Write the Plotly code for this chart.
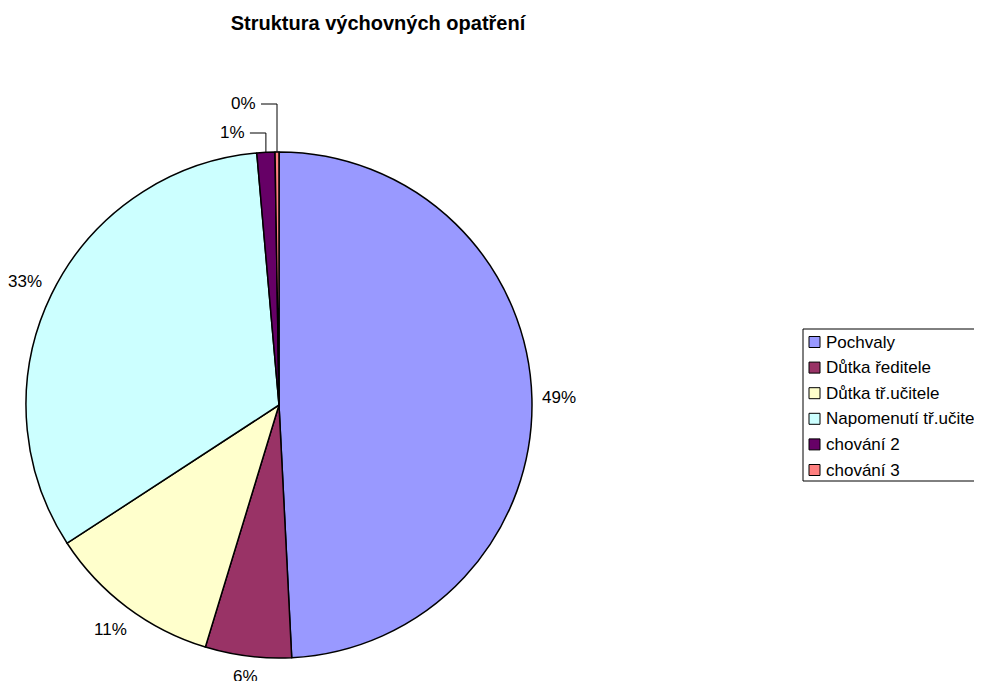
import math
import plotly.graph_objects as go

# ---- data ----
categories = ["Pochvaly", "Důtka ředitele", "Důtka tř.učitele",
              "Napomenutí tř.učitele", "chování 2", "chování 3"]
values = [49.2, 5.5, 11.1, 32.8, 1.15, 0.25]
colors = ["#9999FF", "#993366", "#FFFFCC", "#CCFFFF", "#660066", "#FF8080"]
title_text = "Struktura výchovných opatření"

# ---- layout constants (pixels, figure coordinates) ----
W, H = 982, 681
CX, CY, R = 271, 397, 253          # pie centre / radius
FONT = "Arial, Liberation Sans, sans-serif"
LABEL_SIZE = 17
LABEL_GAP = 10                     # gap between rim and label box
SMALL = {4: 19, 5: 48}             # slices labelled with leader lines: rise above rim
LEG_LEFT, LEG_TOP, LEG_BOTTOM = 795, 321, 473
LEG_FIRST, LEG_STEP = 334, 25.6
SW_X0, SW_SIZE, TXT_X = 801, 11, 816


def px(x):
    return x / W


def py(y):
    return 1 - y / H


total = sum(values)
pct = [f"{round(v / total * 100)}%" for v in values]

fig = go.Figure(go.Pie(
    labels=categories,
    values=values,
    sort=False,
    direction="clockwise",
    rotation=0,
    marker=dict(colors=colors, line=dict(color="black", width=1.5)),
    textinfo="none",
    domain=dict(x=[px(CX - R), px(CX + R)], y=[py(CY + R), py(CY - R)]),
    hoverinfo="label+percent",
    showlegend=False,
))

shapes = []
annotations = []
lab_font = dict(family=FONT, size=LABEL_SIZE, color="black")

# percentage labels placed just outside each slice's mid-angle
cum = 0.0
for i, v in enumerate(values):
    start = cum
    cum += v / total
    mid = (start + cum) / 2 * 2 * math.pi
    ux, uy = math.sin(mid), -math.cos(mid)
    x_rim, y_rim = CX + R * ux, CY + R * uy
    if i in SMALL:
        y_lab = CY - R - SMALL[i]
        x_end = x_rim - 16
        shapes.append(dict(
            type="path", xref="paper", yref="paper",
            path=f"M {px(x_rim)} {py(y_rim)} L {px(x_rim)} {py(y_lab)} L {px(x_end)} {py(y_lab)}",
            line=dict(color="black", width=1)))
        annotations.append(dict(
            text=pct[i], xref="paper", yref="paper", x=px(x_end - 3), y=py(y_lab),
            xanchor="right", yanchor="middle", showarrow=False, font=lab_font))
    else:
        hw = (0.556 * (len(pct[i]) - 1) + 0.889) * LABEL_SIZE / 2
        hh = 9
        d = R + LABEL_GAP + abs(ux) * hw + abs(uy) * hh
        annotations.append(dict(
            text=pct[i], xref="paper", yref="paper",
            x=px(CX + d * ux), y=py(CY + d * uy),
            xanchor="center", yanchor="middle", showarrow=False, font=lab_font))

# legend box
shapes.append(dict(type="rect", xref="paper", yref="paper",
                   x0=px(LEG_LEFT), x1=0.999, y0=py(LEG_BOTTOM), y1=py(LEG_TOP),
                   line=dict(color="black", width=1), fillcolor="white", layer="below"))
for i, (cat, col) in enumerate(zip(categories, colors)):
    yc = LEG_FIRST + i * LEG_STEP
    shapes.append(dict(type="rect", xref="paper", yref="paper",
                       x0=px(SW_X0), x1=px(SW_X0 + SW_SIZE),
                       y0=py(yc + SW_SIZE / 2), y1=py(yc - SW_SIZE / 2),
                       line=dict(color="black", width=1), fillcolor=col))
    annotations.append(dict(
        text=cat, xref="paper", yref="paper", x=px(TXT_X), y=py(yc),
        xanchor="left", yanchor="middle", showarrow=False, font=lab_font))

fig.update_layout(
    width=W, height=H,
    margin=dict(l=0, r=0, t=0, b=0, autoexpand=False),
    paper_bgcolor="white",
    plot_bgcolor="white",
    font=dict(family=FONT, size=LABEL_SIZE, color="black"),
    title=dict(text=f"<b>{title_text}</b>",
               x=px(370), xanchor="center", y=py(15), yanchor="middle",
               font=dict(size=20, family=FONT, color="black")),
    shapes=shapes,
    annotations=annotations,
    showlegend=False,
)

fig.write_html("out.html")
